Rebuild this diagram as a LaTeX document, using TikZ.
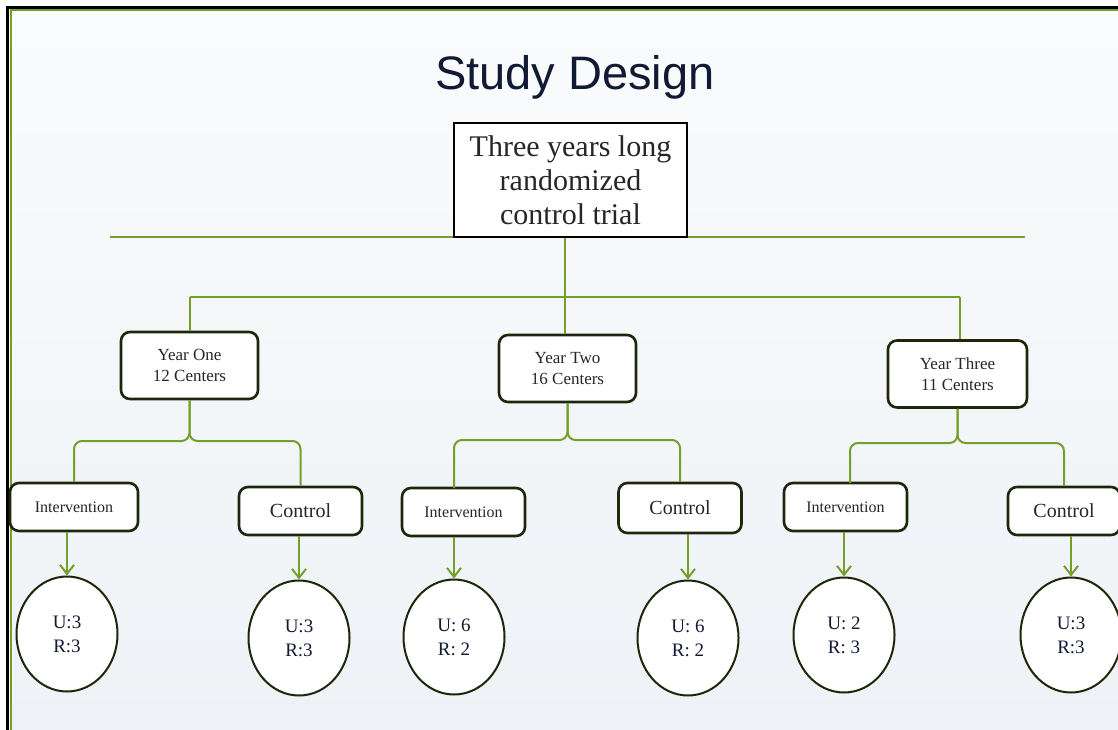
\documentclass[tikz,border=0pt]{standalone}
\usepackage{fontspec}
\setmainfont{Liberation Serif}
\newfontfamily\titlefont{Liberation Sans}
\usetikzlibrary{arrows.meta,shapes.geometric}
\definecolor{lgreen}{HTML}{74A02A}
\definecolor{bdark}{HTML}{1E260C}
\definecolor{ink}{HTML}{111A33}
\definecolor{bgtop}{HTML}{FAFBFC}
\definecolor{bgbot}{HTML}{EEF2F6}
\tikzset{
  yearbox/.style={draw=bdark, line width=2.6pt, rounded corners=9pt, fill=white,
    minimum width=137pt, minimum height=67pt, align=center, inner sep=0pt,
    font=\fontsize{17}{21}\selectfont, text=black!85},
  subbox/.style={draw=bdark, line width=2.6pt, rounded corners=9pt, fill=white,
    minimum width=123pt, minimum height=48pt, align=center, inner sep=0pt, text=black!85},
  intfont/.style={font=\fontsize{16}{19}\selectfont},
  ctlfont/.style={font=\fontsize{20}{24}\selectfont},
  oval/.style={draw=bdark, line width=2pt, ellipse, fill=white,
    minimum width=101pt, minimum height=115pt, inner sep=0pt, align=center,
    font=\fontsize{19}{24}\selectfont, text=ink},
  gline/.style={draw=lgreen, line width=2.8pt},
  bline/.style={draw=lgreen, line width=2pt, rounded corners=8pt},
  arr/.style={draw=lgreen, line width=2pt, -{Straight Barb[length=9pt,width=14pt,line width=2pt]}},
}
\begin{document}
\begin{tikzpicture}[x=1pt,y=-1pt]
\useasboundingbox (0,0) rectangle (1118,730);
\fill[white] (0,0) rectangle (1118,730);
\shade[top color=bgtop, bottom color=bgbot] (11,11) rectangle (1118,730);
% frame
\draw[black, line width=2.6pt] (7.5,730) -- (7.5,7.5) -- (1118,7.5);
\draw[lgreen, line width=2pt] (10.5,730) -- (10.5,10.5) -- (1118,10.5);
% title
\node[font=\titlefont\fontsize{47}{50}\selectfont, text=ink] (title) at (575,77) {Study Design};
% top lines
\coordinate (hl) at (110,237);
\coordinate (hr) at (1025,237);
\draw[gline] (hl) -- (hr);
\node[draw=black, line width=2.6pt, fill=white, minimum width=233pt, minimum height=114pt,
  inner sep=0pt, align=center, font=\fontsize{30}{34}\selectfont, text=black!85]
  (main) at (570.5,180) {Three years long\\randomized\\control trial};
\coordinate (j0) at (565,297);
\coordinate (jl) at (190,297);
\coordinate (jr) at (960,297);
\draw[gline] (main.south -| j0) -- (j0);
\draw[gline] (jl) -- (jr);
% year boxes
\node[yearbox] (y1) at (189.5,365.5) {Year One\\12 Centers};
\node[yearbox] (y2) at (567.5,368.5) {Year Two\\16 Centers};
\node[yearbox, minimum width=139pt] (y3) at (957.5,374) {Year Three\\11 Centers};
\draw[gline, line width=2.4pt] (jl) -- (jl |- y1.north);
\draw[gline, line width=2.4pt] (j0) -- (j0 |- y2.north);
\draw[gline, line width=2.4pt] (jr) -- (jr |- y3.north);
% sub boxes
\node[subbox, intfont, minimum width=128pt] (i1) at (74,507) {Intervention};
\node[subbox, ctlfont] (c1) at (300.5,511) {Control};
\node[subbox, intfont] (i2) at (463.5,512) {Intervention};
\node[subbox, ctlfont, minimum height=50pt] (c2) at (680,508) {Control};
\node[subbox, intfont] (i3) at (845.5,507) {Intervention};
\node[subbox, ctlfont, minimum width=112pt] (c3) at (1064,511) {Control};
% branches
\coordinate (b1) at (0,441);
\coordinate (b2) at (0,440);
\coordinate (b3) at (0,443);
\draw[bline] (y1.south) |- (b1 -| i1.north) -- (i1.north);
\draw[bline] (y1.south) |- (b1 -| c1.north) -- (c1.north);
\coordinate (i2t) at (454,488);
\draw[bline] (y2.south) |- (b2 -| i2t) -- (i2t);
\draw[bline] (y2.south) |- (b2 -| c2.north) -- (c2.north);
\coordinate (i3t) at (850,483);
\draw[bline] (y3.south) |- (b3 -| i3t) -- (i3t);
\draw[bline] (y3.south) |- (b3 -| c3.north) -- (c3.north);
% ovals
\node[oval] (e1) at (67,634) {U:3\\R:3};
\node[oval] (e2) at (299,638) {U:3\\R:3};
\node[oval] (e3) at (454,637) {U: 6\\R: 2};
\node[oval] (e4) at (688,638) {U: 6\\R: 2};
\node[oval] (e5) at (844,635) {U: 2\\R: 3};
\node[oval] (e6) at (1071,635) {U:3\\R:3};
% arrows
\draw[arr] (i1.south -| e1.north) -- (e1.north);
\draw[arr] (c1.south -| e2.north) -- (e2.north);
\draw[arr] (i2.south -| e3.north) -- (e3.north);
\draw[arr] (c2.south -| e4.north) -- (e4.north);
\draw[arr] (i3.south -| e5.north) -- (e5.north);
\draw[arr] (c3.south -| e6.north) -- (e6.north);
\end{tikzpicture}
\end{document}
